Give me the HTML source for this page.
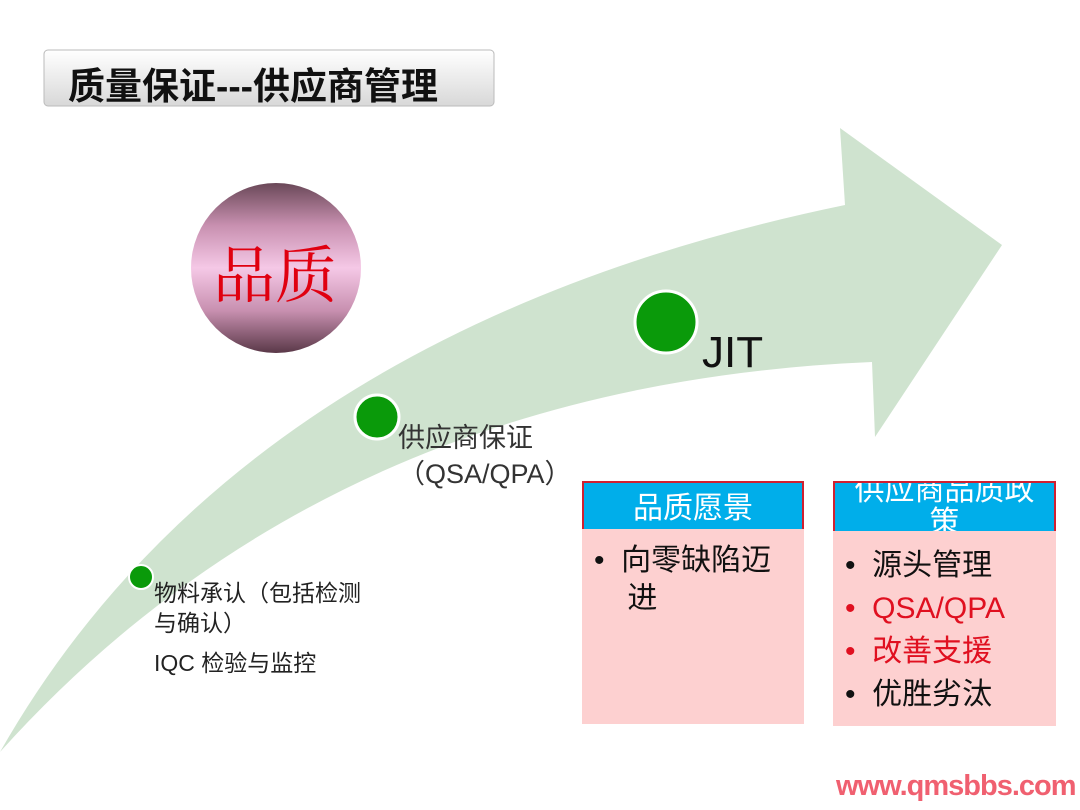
<!DOCTYPE html>
<html><head><meta charset="utf-8"><style>
body{margin:0;width:1080px;height:810px;background:#fff;overflow:hidden;position:relative;font-family:"Liberation Sans","Noto Sans CJK SC",sans-serif}
.abs{position:absolute}
</style></head><body>
<svg class="abs" style="left:0;top:0" width="1080" height="810">
<defs>
<linearGradient id="gv" x1="0" y1="0" x2="0" y2="1">
<stop offset="0" stop-color="#6a4858"/><stop offset="0.25" stop-color="#c890b0"/><stop offset="0.5" stop-color="#f5c8e6"/><stop offset="0.75" stop-color="#c890b0"/><stop offset="1" stop-color="#5a3848"/>
</linearGradient>
<linearGradient id="tb" x1="0" y1="0" x2="0" y2="1"><stop offset="0" stop-color="#fff"/><stop offset="1" stop-color="#d8d8d8"/></linearGradient>
</defs>
<rect x="44" y="50" width="450" height="56" rx="4" fill="url(#tb)" stroke="#bbb"/>
<path d="M0,752 Q240,330 845,205 L840,128 L1002,245 L875,437 L872,362 Q330,385 0,752 Z" fill="#cfe3cf"/>
<circle cx="276" cy="268" r="85" fill="url(#gv)"/>
<circle cx="666" cy="322" r="31" fill="#0a9a0a" stroke="#fff" stroke-width="3"/>
<circle cx="377" cy="417" r="22" fill="#0a9a0a" stroke="#fff" stroke-width="3"/>
<circle cx="141" cy="577" r="12" fill="#0a9a0a" stroke="#fff" stroke-width="2"/>
</svg>
<div class="abs" style="left:68px;top:56px;font-size:37px;font-weight:bold;color:#111;white-space:nowrap">质量保证---供应商管理</div>
<div class="abs" style="left:213px;top:226px;font-size:62px;color:#e00010;font-family:'Noto Serif CJK SC',serif">品质</div>
<div class="abs" style="left:702px;top:328px;font-size:44px;color:#111">JIT</div>
<div class="abs" style="left:398px;top:420px;font-size:27px;color:#333;line-height:36px;white-space:nowrap">供应商保证<br>（QSA/QPA）</div>
<div class="abs" style="left:154px;top:578px;font-size:23px;color:#222;line-height:30px;white-space:nowrap">物料承认（包括检测<br>与确认）<div style="margin-top:10px">IQC 检验与监控</div></div>
<div class="abs" style="left:582px;top:481px;width:222px;height:243px;background:#fdd0d0"></div>
<div class="abs" style="left:582px;top:481px;width:218px;height:46px;background:#00aeea;border:2px solid #d02030;border-bottom:none;color:#fff;font-size:30px;text-align:center;line-height:52px">品质愿景</div>
<div class="abs" style="left:594px;top:542px;font-size:30px;color:#111;line-height:38px;width:210px;white-space:nowrap">•&nbsp; 向零缺陷迈<br>&nbsp;&nbsp;&nbsp; 进</div>
<div class="abs" style="left:833px;top:481px;width:223px;height:245px;background:#fdd0d0"></div>
<div class="abs" style="left:833px;top:481px;width:219px;height:48px;background:#00aeea;border:2px solid #d02030;border-bottom:none;color:#fff;font-size:30px;text-align:center;line-height:32px;overflow:hidden;white-space:nowrap"><div style="margin-top:-8px">供应商品质政<br>策</div></div>
<div class="abs" style="left:845px;top:544px;font-size:30px;line-height:43px;color:#111;white-space:nowrap">
<div>•&nbsp; 源头管理</div><div style="color:#e01020">•&nbsp; QSA/QPA</div><div style="color:#e01020">•&nbsp; 改善支援</div><div>•&nbsp; 优胜劣汰</div></div>
<div class="abs" style="left:836px;top:770px;font-size:29px;color:#f06070;font-weight:bold;letter-spacing:-1px">www.qmsbbs.com</div>
</body></html>
